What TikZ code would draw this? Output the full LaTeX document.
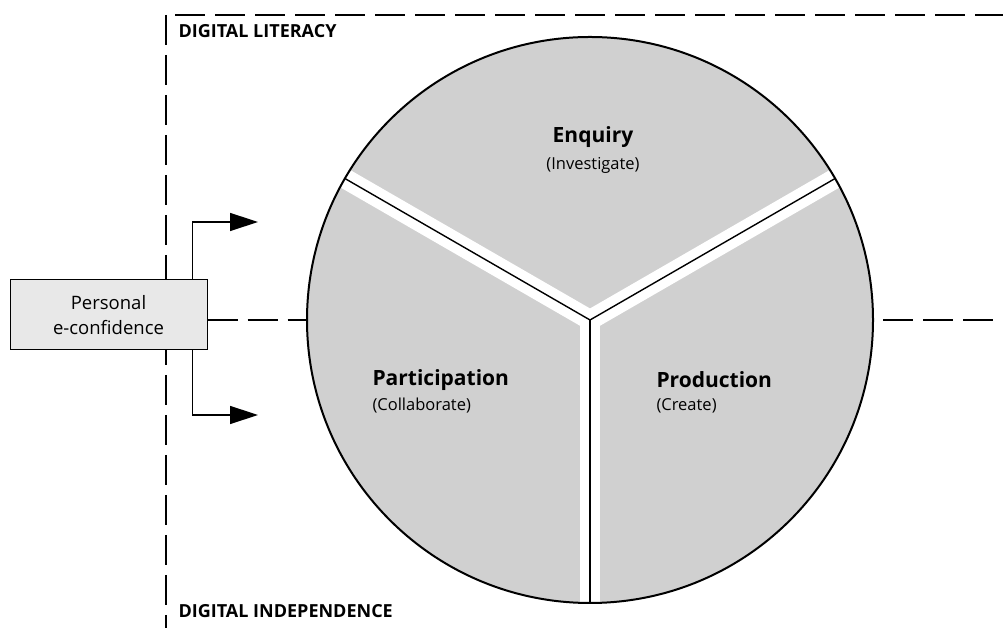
\documentclass[tikz,border=0pt]{standalone}
\usepackage{fontspec}
\setmainfont{Open Sans}
\usetikzlibrary{arrows.meta}
\definecolor{wheelgray}{RGB}{208,208,208}
\definecolor{boxgray}{RGB}{232,232,232}
\tikzset{
  dashline/.style={line width=1.3pt, dash pattern=on 30pt off 10pt},
  gapband/.style={white, line width=20pt},
  divider/.style={black, line width=1.4pt},
  feed/.style={line width=1.4pt, -{Triangle[length=28pt,width=18pt]}},
  region/.style={font=\fontsize{21}{25}\selectfont\bfseries},
  verb/.style={font=\fontsize{16.5}{20}\selectfont},
  zone/.style={anchor=west, font=\fontsize{18}{22}\selectfont\bfseries}
}
\begin{document}
\begin{tikzpicture}[x=1pt, y=1pt]
  \useasboundingbox (0,0) rectangle (1003,628);

  % Wheel background
  \node[circle, fill=wheelgray, minimum size=566pt, inner sep=0pt, outer sep=0pt] (wheel) at (590,308) {};

  % White gaps and dividing lines
  \foreach \ang in {150,30,270} {
    \draw[gapband] (wheel.center) -- (wheel.\ang);
  }
  \foreach \ang in {150,30,270} {
    \draw[divider] (wheel.center) -- (wheel.\ang);
  }
  \draw[line width=2pt] (wheel.center) circle[radius=283pt];

  % Sector labels
  \node[region] (enq) at (593,491) {Enquiry};
  \node[verb] (enqsub) at (593,463) {(Investigate)};
  \node[region, anchor=west] (part) at (369,248) {Participation};
  \node[verb, anchor=west] (partsub) at (369,222) {(Collaborate)};
  \node[region, anchor=west] (prod) at (653,248) {Production};
  \node[verb, anchor=west] (prodsub) at (653,222) {(Create)};

  % Zone boundaries
  \coordinate (topL) at (175,613);
  \coordinate (topR) at (1003,613);
  \coordinate (sideT) at (166,613);
  \coordinate (sideB) at (166,0);
  \coordinate (midR) at (1003,308);
  \draw[dashline] (topL) -- (topR);
  \draw[dashline] (sideT) -- (sideB);

  \node[zone] (lit) at (175,597) {DIGITAL LITERACY};
  \node[zone] (indep) at (175,17) {DIGITAL INDEPENDENCE};

  % Personal e-confidence box
  \node[draw, fill=boxgray, line width=1pt, minimum width=197pt, minimum height=70pt,
        align=center, font=\fontsize{18.5}{25}\selectfont] (conf) at (108.5,313)
        {Personal\\e-confidence};

  \draw[dashline] (conf.east |- wheel.west) -- (wheel.west);
  \draw[dashline, dash phase=30pt] (wheel.east) -- (midR);

  % Arrows out of the box
  \coordinate (upTip) at (258,406);
  \coordinate (downTip) at (258,213);
  \draw[feed] ([xshift=-15pt]conf.north east) |- (upTip);
  \draw[feed] ([xshift=-15pt]conf.south east) |- (downTip);
\end{tikzpicture}
\end{document}
